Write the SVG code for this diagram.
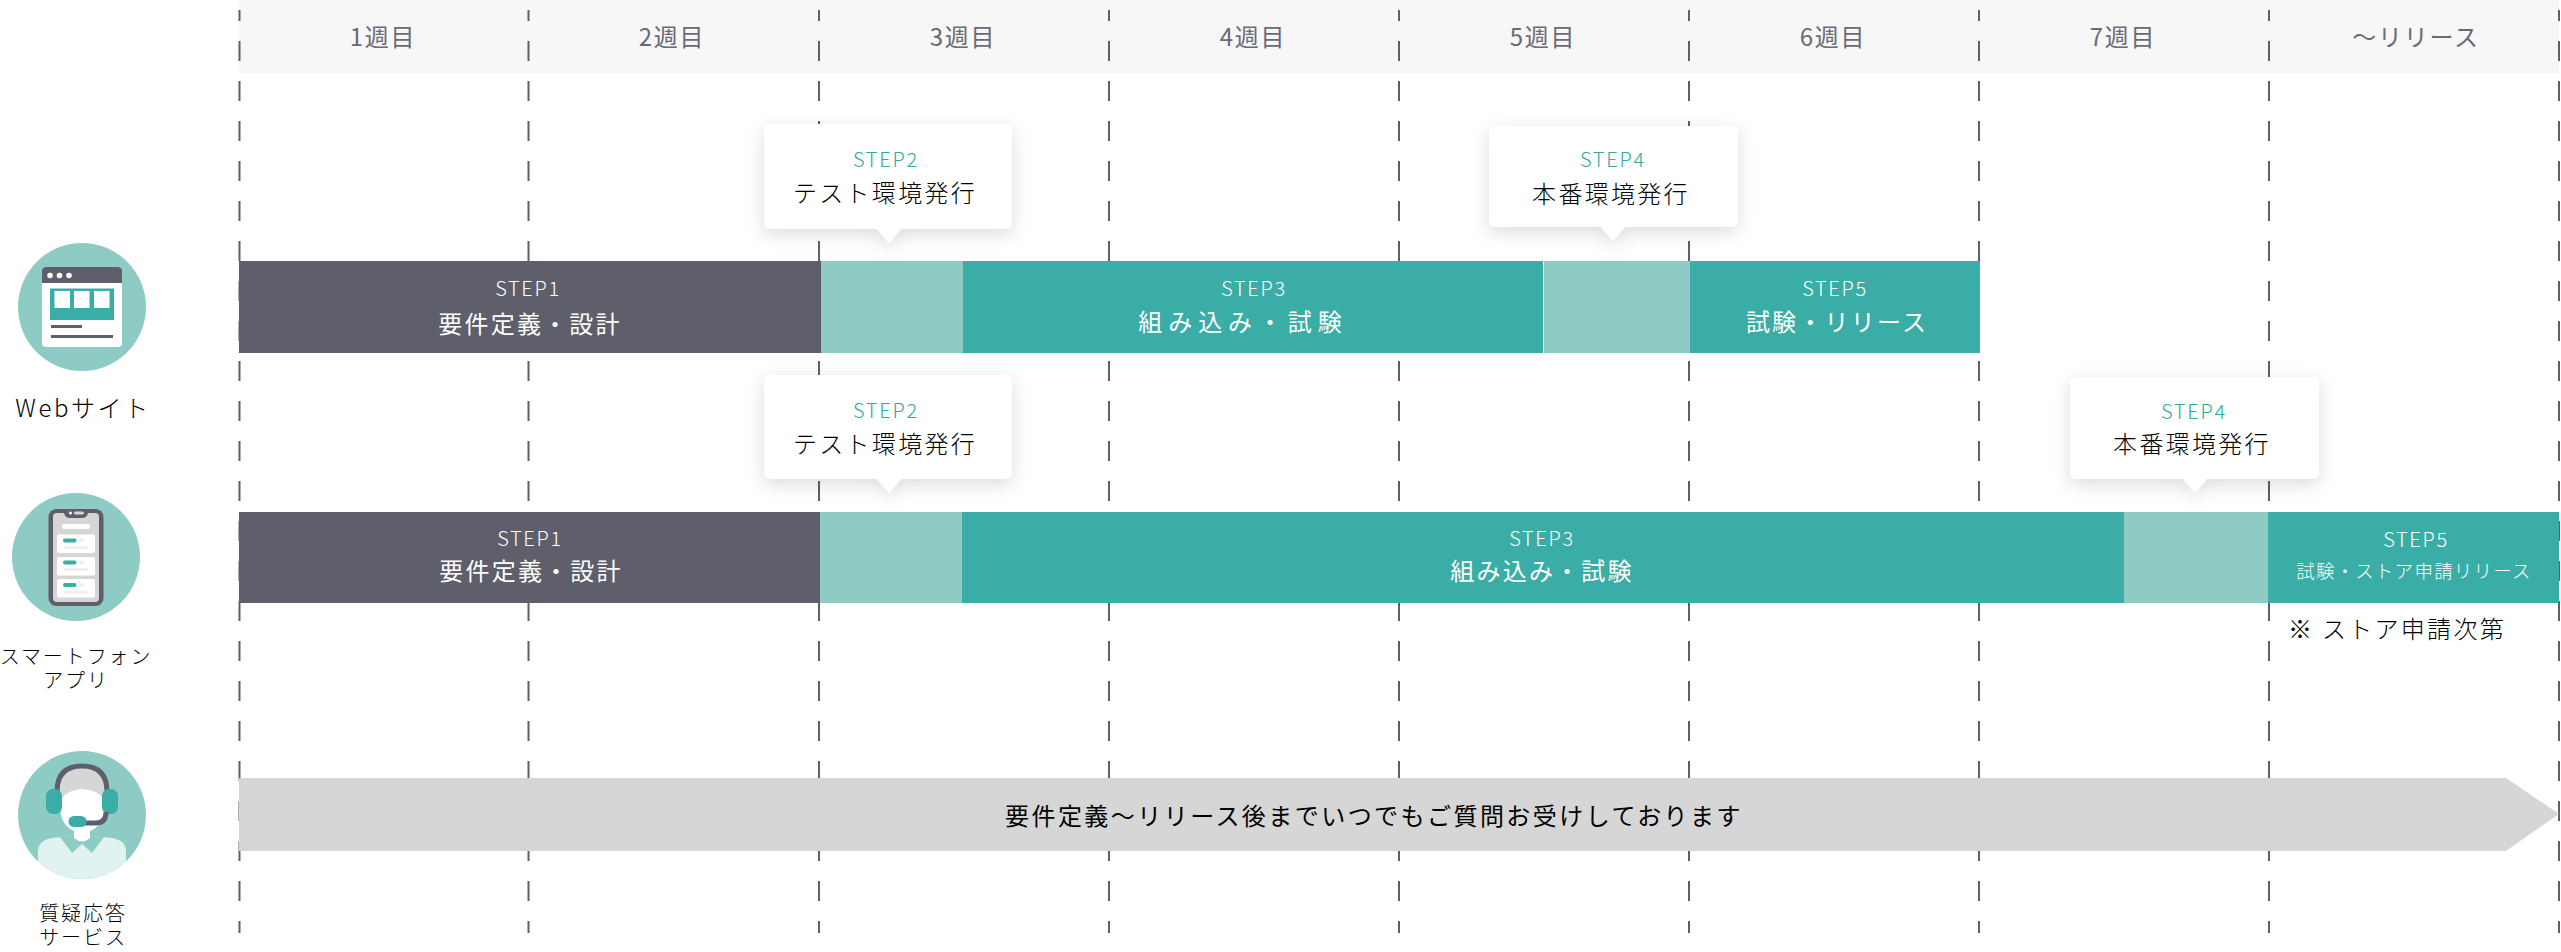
<svg xmlns="http://www.w3.org/2000/svg" width="2561" height="952" viewBox="0 0 2561 952">
<style>
text{font-family:"Noto Sans CJK JP","Noto Sans",sans-serif;text-anchor:middle;font-weight:300}
.wk{font-size:24px;fill:#6a6a75;letter-spacing:1.7px;font-weight:400}
.lb{font-size:20px;fill:#000;letter-spacing:1.9px}
.st{font-size:20px;fill:#fff;letter-spacing:1.7px}
.nm{font-size:24px;fill:#fff;letter-spacing:2.2px;font-weight:400}
.tst{font-size:20px;fill:#2fa8a0;letter-spacing:1.8px}
.tnm{font-size:24px;fill:#000;letter-spacing:2.3px}
.dark{fill:#5f5f6b}.teal{fill:#3aada6}.light{fill:#8fcbc5}.white{fill:#fff}.gray{fill:#d6d6d6}.pale{fill:#f0f0f0}
.tip{fill:#fff;filter:url(#sh)}
.grid line{stroke:#5f5f6b;stroke-width:2;stroke-dasharray:20 20;stroke-dashoffset:9}
</style>
<defs>
<filter id="sh" x="-30%" y="-40%" width="160%" height="190%"><feDropShadow dx="0" dy="5" stdDeviation="9" flood-color="#000" flood-opacity=".14"/></filter>
<clipPath id="hc"><circle cx="82" cy="815" r="64"/></clipPath>
</defs>
<rect id="header-band" x="239" y="0" width="2320" height="73" fill="#f7f7f7"/>
<g id="connectors" class="grid">
<line x1="239.5" y1="10" x2="239.5" y2="933"/>
<line x1="528.5" y1="10" x2="528.5" y2="933"/>
<line x1="819" y1="10" x2="819" y2="933"/>
<line x1="1109" y1="10" x2="1109" y2="933"/>
<line x1="1399" y1="10" x2="1399" y2="933"/>
<line x1="1689" y1="10" x2="1689" y2="933"/>
<line x1="1979" y1="10" x2="1979" y2="933"/>
<line x1="2269" y1="10" x2="2269" y2="933"/>
<line x1="2559" y1="10" x2="2559" y2="933"/>
</g>
<g id="weeks">
<text class="wk" x="383" y="46">1週目</text>
<text class="wk" x="672" y="46">2週目</text>
<text class="wk" x="963" y="46">3週目</text>
<text class="wk" x="1253" y="46">4週目</text>
<text class="wk" x="1543" y="46">5週目</text>
<text class="wk" x="1833" y="46">6週目</text>
<text class="wk" x="2123" y="46">7週目</text>
<text class="wk" x="2416" y="46">〜リリース</text>
</g>
<g id="row-web">
<g id="web-step1"><rect class="dark" x="239" y="261" width="582" height="92"/><text class="st" x="528" y="296">STEP1</text><text class="nm" x="530" y="333">要件定義・設計</text></g>
<rect id="web-step2-bar" class="light" x="821" y="261" width="142" height="92"/>
<g id="web-step3"><rect class="teal" x="963" y="261" width="580" height="92"/><text class="st" x="1254" y="296">STEP3</text><text class="nm" x="1243" y="331" style="letter-spacing:5.9px">組み込み・試験</text></g>
<rect id="web-step4-bar" class="light" x="1544" y="261" width="146" height="92"/>
<g id="web-step5"><rect class="teal" x="1690" y="261" width="290" height="92"/><text class="st" x="1835" y="296">STEP5</text><text class="nm" x="1837" y="331">試験・リリース</text></g>
</g>
<g id="row-app">
<g id="app-step1"><rect class="dark" x="239" y="512" width="581" height="91"/><text class="st" x="530" y="546">STEP1</text><text class="nm" x="531" y="580">要件定義・設計</text></g>
<rect id="app-step2-bar" class="light" x="820" y="512" width="142" height="91"/>
<g id="app-step3"><rect class="teal" x="962" y="512" width="1162" height="91"/><text class="st" x="1542" y="546">STEP3</text><text class="nm" x="1542" y="580">組み込み・試験</text></g>
<rect id="app-step4-bar" class="light" x="2124" y="512" width="144" height="91"/>
<g id="app-step5"><rect class="teal" x="2268" y="512" width="291" height="91"/><text class="st" x="2416" y="547">STEP5</text><text x="2414" y="578" style="font-size:18.5px;fill:#fff;letter-spacing:1.2px">試験・ストア申請リリース</text></g>
<text id="app-note" class="tnm" x="2397" y="638">※ ストア申請次第</text>
</g>
<g id="tip-web-step2"><path class="tip" d="M770 124H1006a6 6 0 0 1 6 6V223a6 6 0 0 1-6 6H901L889 243L877 229H770a6 6 0 0 1-6-6V130a6 6 0 0 1 6-6Z"/><text class="tst" x="886" y="167">STEP2</text><text class="tnm" x="885" y="202">テスト環境発行</text></g>
<g id="tip-web-step4"><path class="tip" d="M1495 126H1732a6 6 0 0 1 6 6V221a6 6 0 0 1-6 6H1625L1613 241L1601 227H1495a6 6 0 0 1-6-6V132a6 6 0 0 1 6-6Z"/><text class="tst" x="1613" y="167">STEP4</text><text class="tnm" x="1611" y="203">本番環境発行</text></g>
<g id="tip-app-step2"><path class="tip" d="M770 375H1006a6 6 0 0 1 6 6V473a6 6 0 0 1-6 6H901L889 493L877 479H770a6 6 0 0 1-6-6V381a6 6 0 0 1 6-6Z"/><text class="tst" x="886" y="418">STEP2</text><text class="tnm" x="885" y="453">テスト環境発行</text></g>
<g id="tip-app-step4"><path class="tip" d="M2076 377H2313a6 6 0 0 1 6 6V473a6 6 0 0 1-6 6H2207L2195 493L2183 479H2076a6 6 0 0 1-6-6V383a6 6 0 0 1 6-6Z"/><text class="tst" x="2194" y="419">STEP4</text><text class="tnm" x="2192" y="453">本番環境発行</text></g>
<g id="support-arrow"><path class="gray" d="M239 778H2506L2559 814L2506 851H239Z"/><text x="1374" y="825" style="font-size:24px;fill:#000;letter-spacing:2.45px;font-weight:400">要件定義〜リリース後までいつでもご質問お受けしております</text></g>
<g id="icon-web">
<circle class="light" cx="82" cy="307" r="64"/>
<rect class="white" x="42" y="267" width="80" height="80" rx="4"/>
<path class="dark" d="M42 283V271a4 4 0 0 1 4-4H118a4 4 0 0 1 4 4V283Z"/>
<circle class="white" cx="50" cy="275.500" r="2.800"/><circle class="white" cx="59.500" cy="275.500" r="2.800"/><circle class="white" cx="69" cy="275.500" r="2.800"/>
<rect class="teal" x="50" y="288.500" width="64" height="31.500"/>
<rect class="white" x="54.500" y="291" width="15.500" height="17"/><rect class="white" x="74" y="291" width="15.500" height="17"/><rect class="white" x="94" y="291" width="15.500" height="17"/>
<rect class="dark" x="51" y="325" width="31" height="3"/><rect class="dark" x="51" y="335" width="62" height="3"/>
<text x="83" y="417" style="font-size:24px;fill:#000;letter-spacing:2.6px">Webサイト</text>
</g>
<g id="icon-app">
<circle class="light" cx="76" cy="557" r="64"/>
<rect class="dark" x="48.500" y="509" width="55" height="97" rx="8"/>
<path class="gray" d="M57 513H64Q65 518 70 518H82Q87 518 88 513H95Q99 513 99 517V598Q99 602 95 602H57Q53 602 53 598V517Q53 513 57 513Z"/>
<rect class="white" x="69" y="511.500" width="3" height="3" rx="1.500"/><rect class="gray" x="74" y="511.500" width="10" height="3" rx="1.500"/>
<rect class="white" x="62" y="524" width="28" height="5" rx="2.500"/>
<rect class="white" x="57" y="534.500" width="38" height="18.500" rx="2"/><rect class="white" x="57" y="557" width="38" height="18.500" rx="2"/><rect class="white" x="57" y="579" width="38" height="18.500" rx="2"/>
<rect class="teal" x="63" y="538.500" width="13.500" height="4" rx="2"/><rect class="teal" x="63" y="560.500" width="13.500" height="4" rx="2"/><rect class="teal" x="63" y="583" width="13.500" height="4" rx="2"/>
<rect class="pale" x="79" y="538.500" width="5" height="4" rx="2"/><rect class="pale" x="79" y="560.500" width="5" height="4" rx="2"/><rect class="pale" x="79" y="583" width="5" height="4" rx="2"/>
<rect class="pale" x="63.500" y="546" width="25" height="3" rx="1.500"/><rect class="pale" x="63.500" y="568" width="25" height="3" rx="1.500"/><rect class="pale" x="63.500" y="590.500" width="25" height="3" rx="1.500"/>
<text class="lb" x="76" y="664">スマートフォン</text><text class="lb" x="76" y="688">アプリ</text>
</g>
<g id="icon-support">
<circle class="light" cx="82" cy="815" r="64"/>
<g clip-path="url(#hc)">
<path fill="#e0f3f1" d="M38 880V852Q38 840 52 838L74 836H90L112 838Q126 840 126 852V880Z"/>
<path class="light" d="M60 837L72 853L82 844L92 853L104 837L90 836H74Z"/>
<path class="white" d="M74 830H90V838Q82 845 74 838Z"/>
</g>
<path class="white" d="M60 790Q60 768 82 768Q105 768 105 790V805Q105 825 90 831V836Q82 844 74 836V831Q60 825 60 805Z"/>
<path class="gray" d="M60 800V790Q60 767 82 767Q105 767 105 790V800Q96 789 82 789Q69 789 60 800Z"/>
<path fill="none" stroke="#5f5f6b" stroke-width="5" d="M57 792Q57 766 82 766Q107 766 107 792"/>
<rect class="teal" x="46" y="789" width="16" height="25" rx="7"/><rect class="teal" x="102" y="789" width="16" height="25" rx="7"/>
<path fill="none" stroke="#5f5f6b" stroke-width="5" d="M106 812Q106 823 96 823H82"/>
<rect class="teal" x="68.500" y="816" width="18" height="11" rx="5.500"/>
<text class="lb" x="83" y="921">質疑応答</text><text class="lb" x="83" y="945">サービス</text>
</g>
</svg>
